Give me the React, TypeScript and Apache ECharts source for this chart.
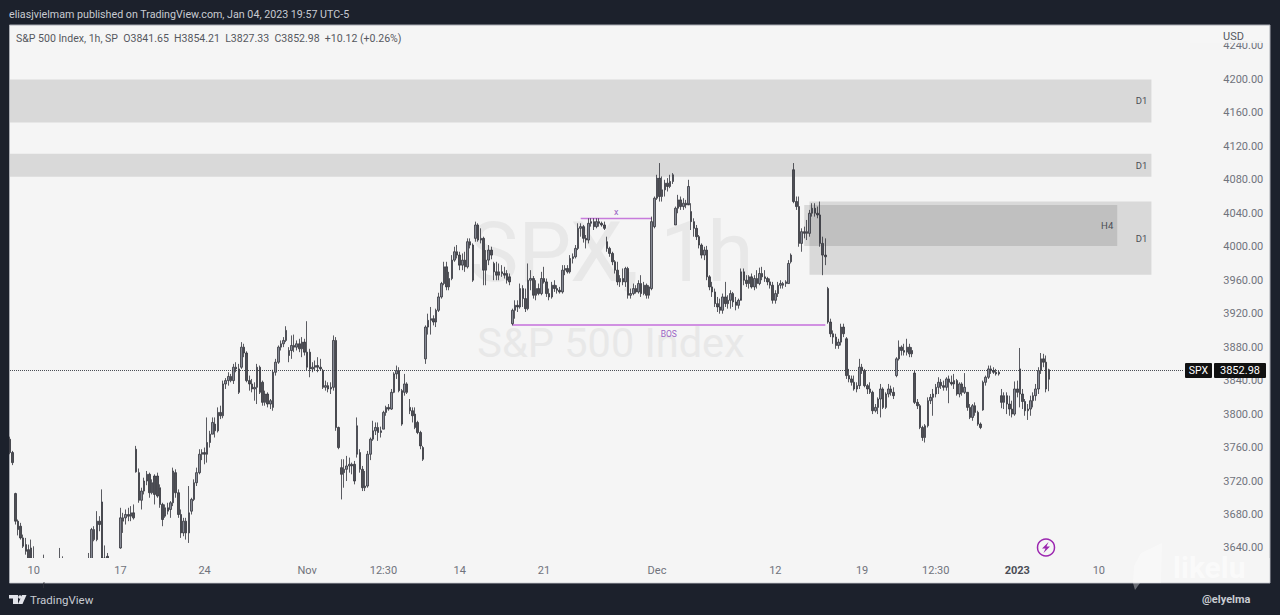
import React, { useEffect, useRef } from "react";
import * as echarts from "echarts";

// Every candle is [open, high, low, close].
const octCandles = [
[3770,3773,3752,3754],[3754,3756,3739,3742],[3705,3706,3668,3672],[3672,3674,3655,3662],[3666,3670,3650,3652],[3652,3656,3640,3642],[3644,3652,3632,3636],[3638,3644,3615,3622],[3640,3650,3620,3625],[3625,3642,3610,3620],
[3612,3618,3600,3605],[3605,3612,3595,3600],[3600,3610,3590,3598],[3598,3632,3592,3610],[3610,3626,3604,3612],[3612,3628,3600,3606],[3606,3620,3598,3602],[3602,3618,3592,3598],[3598,3624,3590,3610],[3610,3640,3602,3620],
[3620,3630,3606,3612],[3612,3626,3604,3608],[3608,3620,3598,3604],[3604,3616,3596,3600],[3600,3614,3592,3596],[3596,3610,3590,3594],[3594,3606,3586,3590],[3590,3608,3584,3600],[3600,3616,3594,3606],[3606,3622,3600,3612],
[3612,3634,3606,3620],[3625,3664,3618,3662],[3650,3666,3648,3662],[3650,3684,3648,3672],[3672,3678,3660,3668],[3695,3710,3622,3628],[3628,3643,3618,3625],[3630,3634,3624,3626],[3610,3620,3600,3606],[3606,3616,3598,3602],
[3602,3614,3594,3608],[3608,3622,3604,3618],[3640,3688,3639,3676],[3672,3682,3658,3676],[3676,3686,3668,3680],[3680,3688,3672,3678],[3678,3690,3672,3682],[3682,3692,3674,3676],[3758,3762,3730,3731],[3730,3735,3694,3697],
[3697,3712,3686,3708],[3708,3724,3704,3720],[3720,3732,3715,3728],[3728,3730,3700,3706],[3706,3722,3704,3718],[3726,3728,3692,3704],[3726,3730,3700,3702],[3712,3716,3688,3692],[3692,3694,3666,3674],[3678,3692,3676,3688],
[3688,3694,3680,3684],[3686,3696,3676,3694],[3694,3736,3690,3732],[3730,3734,3700,3706],[3706,3710,3676,3680],[3680,3686,3652,3658],[3658,3676,3654,3672],[3672,3676,3650,3658],[3658,3714,3646,3682],[3684,3700,3680,3698],
[3698,3722,3696,3718],[3718,3736,3714,3730],[3730,3758,3728,3752],[3752,3758,3745,3754],[3754,3760,3740,3752],[3752,3796,3742,3766],[3766,3780,3760,3776],[3776,3796,3776,3790],[3788,3796,3772,3780],[3780,3808,3778,3802],
[3802,3810,3794,3798],[3798,3840,3795,3836],[3836,3843,3830,3840],[3840,3850,3834,3845],[3845,3848,3838,3840],[3840,3860,3836,3856],[3856,3862,3850,3854],[3854,3860,3824,3826],[3856,3886,3854,3880],[3880,3884,3868,3873],
[3873,3875,3838,3840],[3840,3846,3828,3836],[3836,3842,3826,3830],[3830,3838,3816,3832],[3832,3860,3812,3856],[3856,3858,3824,3826],[3838,3840,3810,3814],[3814,3828,3810,3824],[3824,3826,3808,3812],[3812,3818,3806,3816],
[3808,3853,3804,3850],[3850,3866,3846,3862],[3862,3882,3860,3880],[3880,3888,3876,3884],[3884,3892,3880,3888],[3888,3905,3886,3900],
];
const novCandles = [
[3870,3880,3862,3876],[3876,3894,3866,3882],[3882,3895,3874,3880],[3880,3888,3876,3884],[3884,3890,3874,3878],[3878,3892,3868,3886],[3886,3890,3870,3874],[3874,3911,3852,3856],[3874,3878,3844,3854],[3854,3862,3850,3856],
[3856,3864,3852,3858],[3858,3868,3850,3856],[3856,3866,3852,3854],[3852,3854,3830,3832],[3832,3840,3828,3834],[3834,3838,3826,3830],[3830,3838,3824,3832],[3832,3894,3828,3888],[3888,3892,3780,3784],[3784,3785,3758,3760],
[3736,3746,3698,3728],[3730,3746,3712,3734],[3734,3750,3720,3738],[3738,3748,3730,3740],[3740,3742,3728,3738],[3740,3744,3716,3720],[3752,3796,3748,3786],[3754,3758,3730,3734],[3734,3738,3708,3712],[3712,3732,3708,3714],
[3714,3756,3712,3752],[3752,3772,3745,3770],[3770,3792,3768,3780],[3780,3790,3775,3784],[3784,3790,3768,3778],[3778,3785,3772,3780],[3782,3804,3782,3802],[3802,3810,3798,3808],[3808,3812,3804,3806],[3806,3830,3805,3826],
[3826,3850,3825,3848],[3848,3858,3842,3852],[3852,3856,3826,3828],[3828,3830,3786,3788],[3826,3848,3822,3836],[3836,3838,3824,3826],[3808,3818,3800,3804],[3804,3808,3790,3798],[3800,3808,3782,3784],[3790,3792,3776,3778],
[3778,3780,3758,3762],[3760,3762,3744,3746],[3866,3906,3860,3904],[3904,3920,3895,3912],[3912,3928,3895,3914],[3914,3918,3906,3910],[3910,3926,3904,3924],[3924,3945,3922,3940],[3940,3958,3938,3956],[3956,3982,3954,3976],
[3976,3982,3948,3952],[3952,3970,3948,3962],[3962,3990,3960,3984],[3984,4000,3982,3994],[3994,4002,3986,3990],[3990,3994,3972,3978],[3978,3992,3972,3984],[3984,3994,3970,3976],[3976,4010,3974,4006],[4006,4010,3998,4002],
[4002,4004,3958,3960],[4010,4030,4006,4026],[4026,4028,4006,4008],[4008,4022,4004,4010],[4010,4012,3954,3972],[3972,3996,3954,3984],[3984,4002,3978,3996],[3996,4000,3985,3990],[3980,3982,3960,3970],[3970,3982,3960,3966],
[3966,3980,3960,3970],[3970,3978,3964,3968],[3968,3976,3962,3966],[3968,3972,3956,3960],[3964,3968,3954,3958],[3908,3926,3906,3924],[3924,3936,3914,3930],[3930,3936,3922,3928],[3928,3956,3926,3950],[3950,3954,3928,3938],[3938,3950,3922,3926],
[3926,3980,3924,3960],[3960,3972,3948,3962],[3962,3965,3938,3942],[3942,3960,3936,3950],[3950,3956,3942,3944],[3944,3970,3942,3962],[3962,3976,3956,3958],[3958,3962,3940,3944],[3944,3950,3936,3940],[3940,3958,3938,3954],
[3954,3960,3946,3950],[3950,3954,3944,3948],[3948,3952,3944,3946],[3946,3978,3944,3972],[3972,3978,3966,3974],[3974,3978,3968,3970],[3970,3990,3968,3986],[3986,3992,3980,3988],[3988,4002,3986,3998],[3998,4028,3996,4022],
[4022,4028,4012,4024],[4024,4026,4005,4010],[4010,4014,3998,4008],[4008,4034,4004,4028],[4028,4034,4024,4030],[4030,4034,4020,4024],[4024,4034,4022,4030],[4030,4034,4024,4028],[4028,4030,4024,4026],[4026,4030,4020,4022],
[4006,4012,3994,3998],[3998,4000,3988,3992],[3992,3994,3978,3982],[3982,3984,3968,3972],[3972,3982,3954,3958],[3958,3966,3952,3962],[3962,3974,3954,3958],[3958,3976,3952,3974],[3974,3976,3938,3942],[3942,3950,3938,3944],
[3944,3956,3942,3950],[3950,3954,3944,3946],[3946,3960,3944,3956],[3956,3966,3940,3944],[3944,3958,3942,3954],[3954,3956,3938,3942],[3942,3954,3938,3952],
];
const decCandles = [
[3950,4036,3948,4030],[4024,4060,4022,4058],[4058,4086,4056,4082],[4082,4100,4054,4060],[4060,4084,4054,4068],[4068,4080,4060,4076],[4076,4082,4066,4072],[4072,4086,4070,4078],[4078,4088,4075,4086],[4026,4048,4026,4046],
[4046,4062,4040,4056],[4056,4060,4044,4048],[4048,4058,4044,4052],[4052,4056,4046,4050],[4050,4080,4052,4072],[4042,4052,4020,4030],[4030,4034,4012,4022],[4022,4026,4008,4012],[4012,4014,3998,4002],[4002,4004,3986,3990],
[3990,4000,3984,3996],[3996,4001,3960,3964],[3964,3966,3948,3952],[3952,3958,3940,3946],[3946,3950,3928,3932],[3932,3940,3922,3928],[3928,3938,3920,3924],[3924,3944,3920,3940],[3940,3958,3928,3932],[3932,3942,3926,3936],
[3936,3948,3926,3944],[3944,3946,3928,3934],[3934,3940,3924,3930],[3930,3938,3926,3936],[3936,3974,3938,3970],[3970,3974,3954,3960],[3960,3966,3952,3956],[3956,3966,3950,3964],[3964,3968,3950,3952],[3952,3966,3948,3962],
[3962,3972,3950,3956],[3956,3975,3954,3968],[3968,3976,3960,3964],[3964,3972,3958,3962],[3962,3964,3954,3958],[3958,3962,3950,3954],[3954,3958,3932,3936],[3936,3948,3932,3944],[3944,3958,3940,3954],[3954,3960,3950,3956],
[3954,3958,3950,3956],[3956,3960,3952,3958],[3956,3984,3956,3980],[3982,3992,3980,3990],
[4092,4100,4052,4054],[4054,4060,4044,4048],[4048,4060,4000,4004],[4004,4022,3994,4018],[4018,4024,4010,4016],[4016,4032,4008,4018],[4016,4044,4012,4040],[4040,4052,4036,4046],[4046,4052,4036,4040],
[4040,4048,4034,4038],[4038,4054,4000,4004],[4004,4012,3966,3990],[3990,4010,3978,3988],[3950,3952,3908,3910],[3910,3914,3892,3896],[3896,3900,3884,3892],[3892,3896,3878,3882],[3882,3890,3878,3886],[3886,3908,3882,3904],
[3904,3908,3892,3896],[3890,3892,3842,3846],[3846,3854,3838,3842],[3842,3846,3834,3838],[3838,3846,3828,3830],[3830,3838,3826,3834],[3834,3866,3830,3856],[3856,3860,3848,3852],[3852,3854,3832,3834],[3834,3836,3824,3830],
[3830,3838,3824,3826],[3826,3828,3800,3804],[3804,3812,3802,3808],[3808,3820,3800,3818],[3818,3836,3796,3830],[3830,3832,3806,3808],[3808,3826,3806,3824],[3824,3836,3820,3830],[3830,3834,3822,3826],[3826,3832,3818,3822],
[3846,3868,3844,3866],[3866,3888,3864,3880],[3880,3882,3870,3876],[3876,3884,3870,3874],[3874,3890,3870,3880],[3880,3884,3868,3872],[3876,3880,3868,3872],[3849,3852,3812,3814],[3814,3818,3806,3810],[3810,3812,3782,3784],
[3784,3786,3768,3772],[3772,3788,3766,3786],[3786,3820,3784,3816],[3816,3824,3812,3820],[3820,3830,3798,3824],[3824,3836,3820,3832],[3832,3844,3824,3838],[3838,3842,3830,3834],[3834,3840,3828,3832],[3832,3844,3828,3842],
[3842,3846,3813,3838],[3838,3846,3834,3836],[3836,3848,3830,3840],[3840,3842,3822,3824],[3824,3838,3820,3836],[3836,3838,3822,3826],[3826,3849,3824,3832],[3826,3826,3804,3808],[3808,3812,3794,3796],[3796,3812,3792,3810],
[3810,3814,3798,3802],[3802,3804,3786,3788],[3788,3790,3782,3784],[3805,3840,3804,3838],[3838,3846,3834,3844],[3844,3858,3842,3854],[3854,3858,3848,3852],[3852,3856,3848,3850],[3850,3854,3846,3848],[3848,3852,3846,3850],
];
const janCandles = [
[3822,3830,3807,3814],[3814,3826,3806,3822],[3822,3826,3800,3812],[3812,3822,3798,3806],[3806,3816,3796,3800],[3800,3839,3798,3830],[3830,3840,3820,3826],[3824,3879,3808,3854],[3824,3830,3806,3815],[3815,3818,3798,3804],
[3804,3812,3793,3806],[3806,3822,3798,3816],[3816,3826,3808,3822],[3822,3836,3816,3830],[3830,3856,3824,3852],[3852,3873,3848,3866],[3866,3872,3856,3862],[3862,3870,3826,3830],[3841.65,3854.21,3827.33,3852.98],
];

const lastPrice = 3852.98;
const priceTicks = [3640,3680,3720,3760,3800,3840,3880,3920,3960,4000,4040,4080,4120,4160,4200,4240];
const timeTickLabels = ["10","17","24","Nov","12:30","14","21","Dec","12","19","12:30","2023","10"];
const timeTickSlots = [9,42,74,113,142,171,203,246,291,324,352,383,414];
const zones = [
  { name: "D1", from: 0, to: 434, top: 4200, bottom: 4148.6 },
  { name: "D1", from: 0, to: 434, top: 4111, bottom: 4083.5 },
  { name: "D1", from: 304, to: 434, top: 4054, bottom: 3966.5 },
  { name: "H4", from: 302, to: 421, top: 4050, bottom: 4001 },
];

const SLOTS = 447;
const STEP = 2.63;
const FONT = "Roboto, 'Liberation Sans', sans-serif";

export default function App() {
  const ref = useRef<HTMLDivElement>(null);
  useEffect(() => {
    const chart = echarts.init(ref.current!, null, { renderer: "svg" });
    const candles = [...octCandles, ...novCandles, ...decCandles, ...janCandles];
    const categories = Array.from({ length: SLOTS }, (_, i) => {
      const k = timeTickSlots.indexOf(i);
      return k >= 0 ? timeTickLabels[k] : "";
    });
    const slotSet = new Set(timeTickSlots);
    const purple = "#c77bdc";
    chart.setOption({
      animation: false,
      backgroundColor: "#1c212c",
      grid: { left: 10 - STEP / 2, top: 25, width: SLOTS * STEP, height: 533 },
      xAxis: {
        type: "category",
        data: categories,
        z: 5,
        axisLine: { show: false },
        axisTick: { show: false },
        splitLine: { show: false },
        axisLabel: {
          interval: (i: number) => slotSet.has(i),
          hideOverlap: false,
          margin: 7,
          fontFamily: FONT,
          fontSize: 11,
          color: "#70737c",
          formatter: (v: string) => (v === "2023" ? "{b|2023}" : v),
          rich: { b: { fontFamily: FONT, fontSize: 11, fontWeight: "bold", color: "#4a4d55" } },
        },
      },
      yAxis: {
        type: "value",
        position: "right",
        min: 3628,
        max: 4265,
        z: 5,
        axisLine: { show: false },
        axisTick: { show: false, customValues: priceTicks },
        splitLine: { show: false },
        axisLabel: {
          customValues: priceTicks,
          margin: 39,
          fontFamily: FONT,
          fontSize: 11,
          color: "#70737c",
          formatter: (v: number) => v.toFixed(2),
        },
      },
      series: [
        {
          type: "candlestick",
          z: 2,
          barWidth: 2,
          data: candles.map(([o, h, l, c]) => [o, c, l, h]),
          itemStyle: {
            color: "#868a95",
            color0: "#4e4f55",
            borderColor: "#32343b",
            borderColor0: "#32343b",
            borderWidth: 0.8,
          },
          markArea: {
            silent: true,
            z: 1,
            itemStyle: { color: "rgba(0,0,0,0.115)" },
            label: {
              show: true,
              position: "insideRight",
              distance: 4,
              fontFamily: FONT,
              fontSize: 9.5,
              color: "#4a4d55",
            },
            data: zones.map((z) => [
              { name: z.name, coord: [z.from, z.top] },
              { coord: [z.to, z.bottom] },
            ]),
          },
          markLine: {
            silent: true,
            symbol: "none",
            z: 1,
            label: { show: false },
            data: [
              [
                { coord: [0, lastPrice], lineStyle: { color: "#4a4d55", type: "dotted", width: 1 } },
                { coord: [SLOTS - 1, lastPrice] },
              ],
              [
                {
                  coord: [217, 4033.7],
                  lineStyle: { color: purple, type: "solid", width: 1.4 },
                  label: { show: true, formatter: "x", position: "insideMiddleTop", distance: 2, color: "#9a63c4", fontSize: 9, fontFamily: FONT },
                },
                { coord: [244, 4033.7] },
              ],
              [
                {
                  coord: [191, 3906.2],
                  lineStyle: { color: "#c46fdb", type: "solid", width: 1.5 },
                  label: { show: true, formatter: "BOS", position: "insideMiddleBottom", distance: 4, color: "#9a63c4", fontSize: 8.5, fontFamily: FONT },
                },
                { coord: [310, 3906.2] },
              ],
            ],
          },
        },
      ],
      graphic: [
        { type: "rect", z: -1, shape: { x: 9.5, y: 25, width: 1260.5, height: 558 }, style: { fill: "#f5f5f5", stroke: "#a9acb3", lineWidth: 1 } },
        { type: "text", z: -1, x: 611, y: 252, style: { text: "SPX, 1h", align: "center", verticalAlign: "middle", fontFamily: FONT, fontSize: 84, fill: "#e8e8e8" } },
        { type: "text", z: -1, x: 611, y: 342, style: { text: "S&P 500 Index", align: "center", verticalAlign: "middle", fontFamily: FONT, fontSize: 41.5, fill: "#e8e8e8" } },

        { type: "rect", z: 3, shape: { x: 10, y: 558, width: 1259.5, height: 24.5 }, style: { fill: "#f5f5f5" } },
        { type: "rect", z: 10, shape: { x: 0, y: 25, width: 9, height: 560 }, style: { fill: "#1c212c" } },
        { type: "rect", z: 10, shape: { x: 1190, y: 26, width: 79, height: 17 }, style: { fill: "#f5f5f5", opacity: 0.92 } },

        { type: "text", z: 11, x: 9, y: 14, style: { text: "eliasjvielmam published on TradingView.com, Jan 04, 2023 19:57 UTC-5", verticalAlign: "middle", fontFamily: FONT, fontSize: 10.7, fill: "#c8cbd2" } },
        { type: "text", z: 11, x: 16, y: 38, style: { text: "S&P 500 Index, 1h, SP  O3841.65  H3854.21  L3827.33  C3852.98  +10.12 (+0.26%)", verticalAlign: "middle", fontFamily: FONT, fontSize: 10.55, fill: "#555860" } },
        { type: "text", z: 11, x: 1223, y: 36, style: { text: "USD", verticalAlign: "middle", fontFamily: FONT, fontSize: 11, fill: "#55585f" } },

        { type: "rect", z: 11, shape: { x: 1185, y: 363, width: 27, height: 15, r: 1 }, style: { fill: "#111" } },
        { type: "text", z: 12, x: 1198.5, y: 370.5, style: { text: "SPX", align: "center", verticalAlign: "middle", fontFamily: FONT, fontSize: 10.5, fill: "#fff" } },
        { type: "rect", z: 11, shape: { x: 1214, y: 363, width: 52, height: 15, r: 1 }, style: { fill: "#111" } },
        { type: "text", z: 12, x: 1240, y: 370.5, style: { text: "3852.98", align: "center", verticalAlign: "middle", fontFamily: FONT, fontSize: 11, fill: "#fff" } },

        { type: "circle", z: 11, shape: { cx: 1046, cy: 547.5, r: 8.5 }, style: { fill: "none", stroke: "#9c27b0", lineWidth: 1.5 } },
        { type: "polygon", z: 11, shape: { points: [[1048.5, 542], [1042, 548.5], [1045.5, 548.5], [1043.5, 553], [1050, 546.5], [1046.5, 546.5]] }, style: { fill: "#9c27b0" } },

        { type: "polygon", z: 11, shape: { points: [[1134, 566], [1141, 553], [1162, 543], [1161, 583], [1140, 583], [1135, 590], [1133, 583]] }, style: { fill: "rgba(255,255,255,0.35)" } },
        { type: "text", z: 11, x: 1173, y: 567, style: { text: "likelu", verticalAlign: "middle", fontFamily: FONT, fontSize: 30, fontWeight: "bold", fill: "rgba(255,255,255,0.55)" } },

        { type: "rect", z: 11, shape: { x: 9, y: 595, width: 9, height: 3.5 }, style: { fill: "#e2e4ea" } },
        { type: "rect", z: 11, shape: { x: 13, y: 595, width: 5, height: 9 }, style: { fill: "#e2e4ea" } },
        { type: "circle", z: 11, shape: { cx: 20, cy: 597, r: 1.8 }, style: { fill: "#e2e4ea" } },
        { type: "polygon", z: 11, shape: { points: [[22, 595], [26.5, 595], [22.5, 604], [18, 604]] }, style: { fill: "#e2e4ea" } },
        { type: "text", z: 11, x: 30, y: 600, style: { text: "TradingView", verticalAlign: "middle", fontFamily: FONT, fontSize: 11.5, fill: "#c8cbd2" } },
        { type: "text", z: 11, x: 1202, y: 599, style: { text: "@elyelma", verticalAlign: "middle", fontFamily: FONT, fontSize: 11, fontWeight: "bold", fill: "#c9ccd2" } },
      ],
    });
    return () => chart.dispose();
  }, []);
  return <div ref={ref} style={{ position: "fixed", left: 0, top: 0, width: 1280, height: 615 }} />;
}
